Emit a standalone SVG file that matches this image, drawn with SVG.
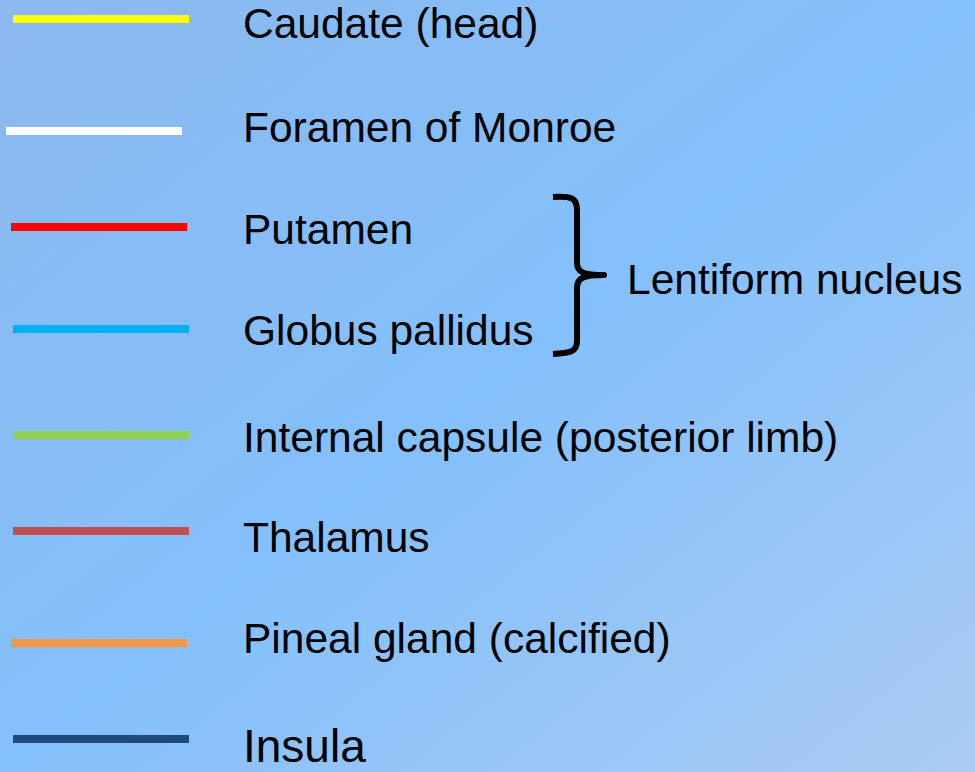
<svg xmlns="http://www.w3.org/2000/svg" width="975" height="772" viewBox="0 0 975 772">
<defs>
<linearGradient id="bg" x1="0" y1="0" x2="1" y2="1">
<stop offset="0" stop-color="#8BB8EE"/>
<stop offset="0.5" stop-color="#84C0FC"/>
<stop offset="1" stop-color="#AACBF2"/>
</linearGradient>
<style>
.t{font-family:"Liberation Sans",Arial,sans-serif;font-size:42.5px;fill:#000}
.k{stroke-width:8;fill:none}
</style>
</defs>
<rect width="975" height="772" fill="url(#bg)"/>
<g id="legend-lines">
<line class="k" x1="13" y1="19" x2="189" y2="19" stroke="#FFFF00"/>
<line class="k" x1="6" y1="131" x2="182" y2="131" stroke="#FFFFFF"/>
<line class="k" x1="11" y1="227" x2="187" y2="227" stroke="#FF0000"/>
<line class="k" x1="13" y1="329" x2="189" y2="329" stroke="#00B0F0"/>
<line class="k" x1="13" y1="435" x2="189" y2="435" stroke="#92D050"/>
<line class="k" x1="13" y1="531" x2="189" y2="531" stroke="#C0504D"/>
<line class="k" x1="11" y1="643" x2="187" y2="643" stroke="#F79646"/>
<line class="k" x1="13" y1="739" x2="189" y2="739" stroke="#1F497D"/>
</g>
<g id="labels">
<text class="t" x="243" y="38">Caudate (head)</text>
<text class="t" x="243" y="142">Foramen of Monroe</text>
<text class="t" x="243" y="244">Putamen</text>
<text class="t" x="243" y="345">Globus pallidus</text>
<text class="t" x="243" y="452">Internal capsule (posterior limb)</text>
<text class="t" x="243" y="552">Thalamus</text>
<text class="t" x="243" y="653">Pineal gland (calcified)</text>
<text class="t" x="243" y="762" style="font-size:46px">Insula</text>
</g>
<g id="brace">
<path d="M553,197 C570,196 577,197 577,210 L577,263 C577,272 583,275 604,275 C583,275 577,278 577,288 L577,341 C577,352 570,353 553,354" fill="none" stroke="#000" stroke-width="6" stroke-linejoin="round"/>
<text class="t" x="627" y="294">Lentiform nucleus</text>
</g>
</svg>
